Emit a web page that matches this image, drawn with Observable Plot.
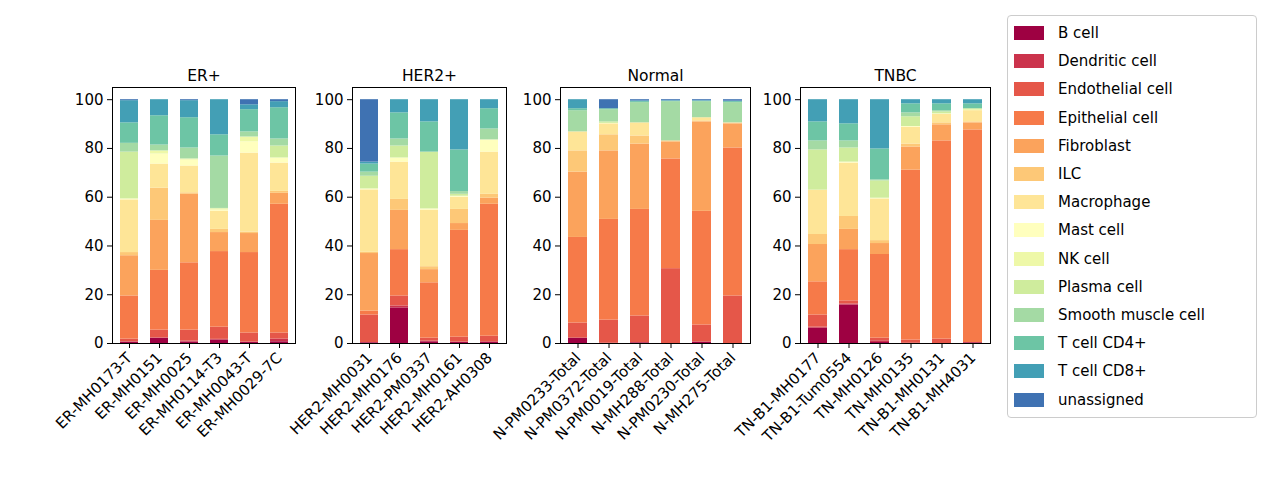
<!DOCTYPE html>
<html><head><meta charset="utf-8">
<script src="https://cdn.jsdelivr.net/npm/d3@7"></script>
<script src="https://cdn.jsdelivr.net/npm/@observablehq/plot@0.6"></script>
<style>
body{margin:0;background:#fff;font-family:"DejaVu Sans",sans-serif;}
#wrap{position:relative;width:1271px;height:504px;overflow:hidden;}
.panel{position:absolute;top:0;}
.panel svg{overflow:visible;}
#legend{position:absolute;left:1007px;top:15px;width:248px;border:1px solid #ccc;border-radius:4px;padding:3px 0;font-size:15px;background:#fff;}
.li{display:flex;align-items:center;height:28.2px;padding-left:6px;}
.sw{width:30px;height:14px;margin-right:14px;}
</style></head><body>
<div id="wrap"><div id="legend"></div></div>
<script>
const cellTypes = ["B cell","Dendritic cell","Endothelial cell","Epithelial cell","Fibroblast","ILC","Macrophage","Mast cell","NK cell","Plasma cell","Smooth muscle cell","T cell CD4+","T cell CD8+","unassigned"];
const colors = ["#9e0142","#cb334c","#e55749","#f67a49","#fba35c","#fdc877","#fee597","#ffffbe","#eef8a8","#cfec9d","#a4daa4","#6dc5a5","#439fb5","#3f72b2"];

// cumulative tops (%) per sample, in cellTypes order
const groupNames = ["ER+","HER2+","Normal","TNBC"];
const erSamples = ["ER-MH0173-T","ER-MH0151","ER-MH0025","ER-MH0114-T3","ER-MH0043-T","ER-MH0029-7C"];
const erCum = [
 [0.5,0.7,1.8,19.5,36,37.3,58.9,59.3,59.3,78.5,82.1,90.5,99.6,100],
 [2.1,2.3,5.5,30,50.5,63.7,73.6,77.7,79,79,81.4,93.4,100,100],
 [0.6,1,5.5,33.1,61.2,61.8,72.8,75.2,75.7,75.7,80.2,92.6,99.6,100],
 [1.4,1.7,6.7,37.7,45.5,46.8,54.3,54.7,55.2,55.4,76.9,85.6,100,100],
 [0.4,0.6,4.3,37.3,45.1,45.7,78.1,82.7,84.7,84.7,86.8,95.9,97.9,100],
 [0.7,1.8,4.3,57.1,61.6,62.4,74,76.1,76.1,81,83.9,96.7,99.2,100]];
const her2Samples = ["HER2-MH0031","HER2-MH0176","HER2-PM0337","HER2-MH0161","HER2-AH0308"];
const her2Cum = [
 [0.3,0.4,11.7,13.3,36.9,37.4,63,63.4,63.4,68.6,70.3,73.6,74.4,100],
 [14.6,15.4,19.5,38.5,54.6,59.1,74.4,76.1,76.1,81,83.9,94.6,100,100],
 [0.7,1,2.2,24.9,30.3,31.5,54.7,55.2,55.2,78.5,78.5,90.9,100,100],
 [0.4,0.6,2.6,46.4,49.2,55,60,60.4,60.4,61.2,62.3,79.4,100,100],
 [0.4,0.7,3,57.1,59.6,61.2,78.5,83.5,83.5,83.5,88,96.3,100,100]];
const normalSamples = ["N-PM0233-Total","N-PM0372-Total","N-PM0019-Total","N-MH288-Total","N-PM0230-Total","N-MH275-Total"];
const normalCum = [
 [2.2,2.2,8.4,43.5,70.3,79,86.8,86.8,86.8,86.8,95.5,96.3,100,100],
 [0.1,0.1,9.6,50.9,79,85.6,90.1,90.3,90.3,90.9,95.9,96.3,96.3,100],
 [0.3,0.3,11.3,55,81.8,85.1,90.5,90.5,90.5,90.5,98.8,99.2,99.5,100],
 [0,0,30.7,75.7,82.7,83.1,83.1,83.1,83.1,83.1,99.2,99.4,99.6,100],
 [0.6,0.6,7.6,54.2,90.9,91.3,92.6,92.6,92.6,92.6,99.2,99.4,99.6,100],
 [0,0,19.5,80.2,90.1,90.4,90.5,90.5,90.5,90.5,98.8,99.2,99.4,100]];
const tnbcSamples = ["TN-B1-MH0177","TN-B1-Tum0554","TN-MH0126","TN-MH0135","TN-B1-MH0131","TN-B1-MH4031"];
const tnbcCum = [
 [6.3,6.7,11.7,25.3,40.6,44.7,62.9,62.9,62.9,79.4,83.1,90.9,100,100],
 [15.8,16.2,17.5,38.5,46.8,52.1,74,74.4,74.4,80.2,83.1,90.1,100,100],
 [0.4,1.1,2.2,36.5,41,42.2,59.3,59.6,59.6,66.7,67.1,79.8,100,100],
 [0.1,0.1,1.4,71.1,80.6,81.8,88.7,89,89,93,94.6,98.3,100,100],
 [0,0,1.8,83.1,89.7,90.5,94,94.2,94.2,95,95.5,98.3,100,100],
 [0.3,0.3,0.4,87.6,90.5,90.9,95.5,95.5,95.9,96.3,96.3,98.3,100,100]];
const yTicks = [0,20,40,60,80,100];

const panels = [
 {title:groupNames[0], samples:erSamples, cum:erCum, left:112, w:183},
 {title:groupNames[1], samples:her2Samples, cum:her2Cum, left:352, w:154},
 {title:groupNames[2], samples:normalSamples, cum:normalCum, left:560, w:190},
 {title:groupNames[3], samples:tnbcSamples, cum:tnbcCum, left:800, w:190}];

const mL = 40, mR = 3, mT = 87, mB = 161;
const wrap = document.getElementById("wrap");
for (const p of panels) {
  const rows = [];
  p.samples.forEach((s, i) => {
    const c = p.cum[i];
    c.forEach((top, k) => {
      const bot = k === 0 ? 0 : c[k-1];
      if (top > bot) rows.push({sample:s, type:cellTypes[k], y1:bot, y2:top});
    });
  });
  const chart = Plot.plot({
    width: p.w + mL + mR, height: 504,
    marginLeft: mL, marginRight: mR, marginTop: mT, marginBottom: mB,
    style:{fontSize:"15px", fontFamily:"DejaVu Sans, sans-serif", color:"#000", background:"transparent", overflow:"visible"},
    x:{domain:p.samples, paddingInner:0.4, paddingOuter:0.2, label:null, tickRotate:-45, tickSize:5},
    y:{domain:[0,105], ticks:yTicks, label:null, tickSize:5},
    color:{domain:cellTypes, range:colors},
    marks:[
      Plot.rectY(rows, {x:"sample", y1:"y1", y2:"y2", fill:"type"}),
      Plot.frame({stroke:"#000", strokeWidth:1}),
      Plot.text([p.title], {frameAnchor:"top", dy:-18, fontSize:15.5, text:d=>d})
    ]
  });
  const div = document.createElement("div");
  div.className = "panel";
  div.style.left = (p.left - mL) + "px";
  div.appendChild(chart);
  wrap.insertBefore(div, wrap.firstChild);
}
const lg = document.getElementById("legend");
cellTypes.forEach((t,i)=>{
  const d = document.createElement("div"); d.className="li";
  d.innerHTML = `<div class="sw" style="background:${colors[i]}"></div><span>${t}</span>`;
  lg.appendChild(d);
});
</script></body></html>
